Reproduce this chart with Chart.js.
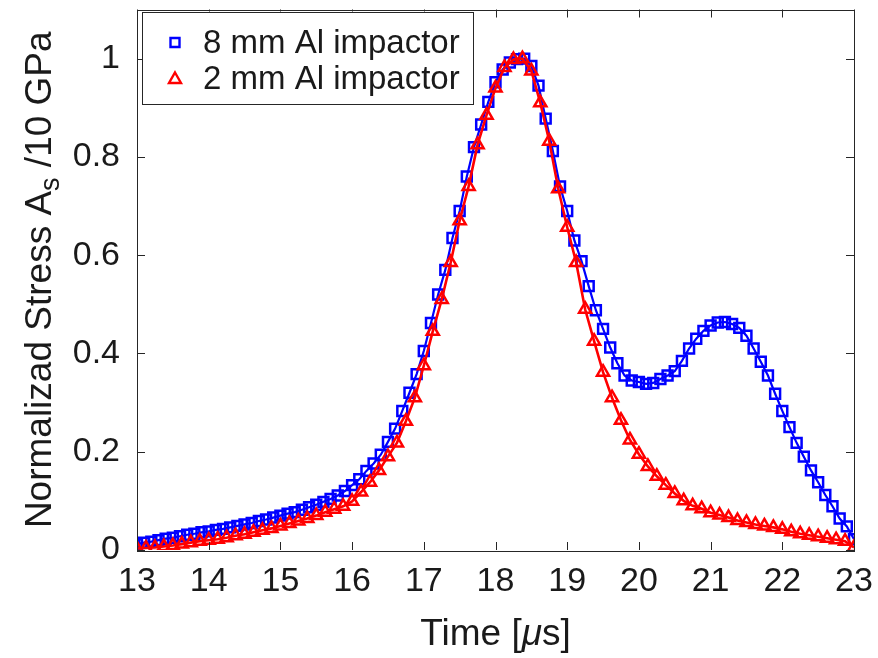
<!DOCTYPE html>
<html><head><meta charset="utf-8">
<script src="https://cdn.jsdelivr.net/npm/chart.js@4/dist/chart.umd.min.js"></script>
<style>html,body{margin:0;padding:0;background:#fff}#wrap{width:878px;height:658px}</style>
</head><body><div id="wrap"><canvas id="c" width="878" height="658"></canvas></div>
<script>
// Time samples [µs] and normalized stress for the 8 mm Al impactor
const blueTimes = [13.0,13.1,13.2,13.3,13.4,13.5,13.6,13.7,13.8,13.9,14.0,14.1,14.2,14.3,14.4,14.5,14.6,14.7,14.8,14.9,15.0,15.1,15.2,15.3,15.4,15.5,15.6,15.7,15.8,15.9,16.0,16.1,16.2,16.3,16.4,16.5,16.6,16.7,16.8,16.9,17.0,17.1,17.2,17.3,17.4,17.5,17.6,17.7,17.8,17.9,18.0,18.1,18.2,18.3,18.4,18.5,18.6,18.7,18.8,18.9,19.0,19.1,19.2,19.3,19.4,19.5,19.6,19.7,19.8,19.9,20.0,20.1,20.2,20.3,20.4,20.5,20.6,20.7,20.8,20.9,21.0,21.1,21.2,21.3,21.4,21.5,21.6,21.7,21.8,21.9,22.0,22.1,22.2,22.3,22.4,22.5,22.6,22.7,22.8,22.9,23.0];
const blueStress = [0.012,0.015,0.017,0.020,0.023,0.025,0.028,0.031,0.033,0.036,0.038,0.041,0.043,0.046,0.049,0.052,0.055,0.059,0.062,0.066,0.070,0.074,0.077,0.082,0.087,0.092,0.098,0.104,0.111,0.120,0.132,0.144,0.161,0.176,0.194,0.220,0.247,0.283,0.320,0.358,0.405,0.462,0.520,0.570,0.635,0.690,0.760,0.820,0.866,0.912,0.952,0.978,0.992,0.999,1.000,0.985,0.945,0.878,0.812,0.740,0.690,0.630,0.588,0.537,0.488,0.450,0.412,0.380,0.355,0.345,0.342,0.338,0.340,0.348,0.355,0.364,0.385,0.410,0.430,0.446,0.457,0.463,0.464,0.460,0.452,0.436,0.410,0.383,0.355,0.318,0.283,0.250,0.218,0.190,0.162,0.138,0.112,0.089,0.064,0.048,0.022];
// Time samples [µs] and normalized stress for the 2 mm Al impactor
const redTimes = [13.000,13.125,13.250,13.375,13.500,13.625,13.750,13.875,14.000,14.125,14.250,14.375,14.500,14.625,14.750,14.875,15.000,15.125,15.250,15.375,15.500,15.625,15.750,15.875,16.000,16.125,16.250,16.375,16.500,16.625,16.750,16.875,17.000,17.125,17.250,17.375,17.500,17.625,17.750,17.875,18.000,18.125,18.250,18.375,18.500,18.625,18.750,18.875,19.000,19.125,19.250,19.375,19.500,19.625,19.750,19.875,20.000,20.125,20.250,20.375,20.500,20.625,20.750,20.875,21.000,21.125,21.250,21.375,21.500,21.625,21.750,21.875,22.000,22.125,22.250,22.375,22.500,22.625,22.750,22.875,23.000];
const redStress = [0.003,0.004,0.005,0.007,0.009,0.012,0.015,0.018,0.020,0.022,0.025,0.029,0.032,0.036,0.040,0.044,0.049,0.054,0.059,0.064,0.070,0.077,0.083,0.089,0.099,0.118,0.138,0.162,0.190,0.218,0.262,0.310,0.375,0.445,0.510,0.585,0.670,0.740,0.825,0.885,0.940,0.982,0.998,1.000,0.975,0.910,0.832,0.735,0.657,0.585,0.490,0.425,0.362,0.310,0.264,0.224,0.195,0.170,0.150,0.132,0.115,0.100,0.090,0.084,0.076,0.071,0.066,0.060,0.056,0.052,0.049,0.046,0.042,0.037,0.033,0.030,0.027,0.024,0.021,0.018,0.005];
const seriesLabels = ['8 mm Al impactor', '2 mm Al impactor'];
const xTickValues = [13,14,15,16,17,18,19,20,21,22,23];
const yTickValues = [0,0.2,0.4,0.6,0.8,1];

const FONT = '"Liberation Sans", Arial, Helvetica, sans-serif';
const TXT = '#1a1a1a';
const AX = '#262626';
const TICK_FS = 34, TITLE_FS = 37, LEGEND_FS = 33;

const framePlugin = {
  id: 'frame',
  afterDraw(chart) {
    const ctx = chart.ctx, a = chart.chartArea;
    const xs = chart.scales.x, ys = chart.scales.y;
    ctx.save();
    // box
    ctx.strokeStyle = AX; ctx.lineWidth = 1;
    ctx.strokeRect(Math.round(a.left)+0.5, Math.round(a.top)+0.5, Math.round(a.right-a.left), Math.round(a.bottom-a.top));
    // inward ticks on all sides
    const tl = 8;
    ctx.beginPath();
    xs.ticks.forEach(t => {
      const px = Math.round(xs.getPixelForValue(t.value)) + 0.5;
      ctx.moveTo(px, a.bottom); ctx.lineTo(px, a.bottom - tl);
      ctx.moveTo(px, a.top); ctx.lineTo(px, a.top + tl);
    });
    ys.ticks.forEach(t => {
      const py = Math.round(ys.getPixelForValue(t.value)) + 0.5;
      ctx.moveTo(a.left, py); ctx.lineTo(a.left + tl, py);
      ctx.moveTo(a.right, py); ctx.lineTo(a.right - tl, py);
    });
    ctx.stroke();

    // x title with italic mu
    ctx.fillStyle = TXT; ctx.textBaseline = 'middle';
    const fs = TITLE_FS;
    const p1 = 'Time [', p2 = 'μ', p3 = 's]';
    ctx.font = fs + 'px ' + FONT; const w1 = ctx.measureText(p1).width, w3 = ctx.measureText(p3).width;
    ctx.font = 'italic ' + fs + 'px ' + FONT; const w2 = ctx.measureText(p2).width;
    let x0 = (a.left + a.right) / 2 - (w1 + w2 + w3) / 2; const yT = a.bottom + 85;
    ctx.textAlign = 'left';
    ctx.font = fs + 'px ' + FONT; ctx.fillText(p1, x0, yT);
    ctx.font = 'italic ' + fs + 'px ' + FONT; ctx.fillText(p2, x0 + w1, yT);
    ctx.font = fs + 'px ' + FONT; ctx.fillText(p3, x0 + w1 + w2, yT);

    // y title with subscript s
    ctx.save();
    ctx.translate(41, (a.top + a.bottom) / 2);
    ctx.rotate(-Math.PI / 2);
    const q1 = 'Normalizad Stress A', q2 = 's', q3 = ' /10 GPa';
    const sfs = Math.round(fs * 0.72);
    ctx.font = fs + 'px ' + FONT; const v1 = ctx.measureText(q1).width, v3 = ctx.measureText(q3).width;
    ctx.font = sfs + 'px ' + FONT; const v2 = ctx.measureText(q2).width;
    let s0 = -(v1 + v2 + v3) / 2;
    ctx.font = fs + 'px ' + FONT; ctx.fillText(q1, s0, 0);
    ctx.font = sfs + 'px ' + FONT; ctx.fillText(q2, s0 + v1, 11);
    ctx.font = fs + 'px ' + FONT; ctx.fillText(q3, s0 + v1 + v2, 0);
    ctx.restore();

    // legend box inside axes (upper left)
    const lx = a.left + 5, ly = a.top + 2, lw = 331, lh = 92;
    ctx.fillStyle = '#fff'; ctx.fillRect(lx, ly, lw, lh);
    ctx.strokeStyle = AX; ctx.lineWidth = 1;
    ctx.strokeRect(Math.round(lx)+0.5, Math.round(ly)+0.5, lw, lh);
    chart.data.datasets.forEach((ds, i) => {
      const ry = ly + 31 + i * 36;
      const mx = lx + 33;
      ctx.strokeStyle = ds.borderColor; ctx.lineWidth = 2.4;
      ctx.beginPath();
      if (ds.pointStyle === 'rect') {
        ctx.rect(mx - 4.5, ry - 4.5, 9, 9);
      } else {
        ctx.moveTo(mx, ry - 6); ctx.lineTo(mx + 6, ry + 4.5); ctx.lineTo(mx - 6, ry + 4.5); ctx.closePath();
      }
      ctx.stroke();
      ctx.fillStyle = TXT; ctx.font = LEGEND_FS + 'px ' + FONT; ctx.textAlign = 'left'; ctx.textBaseline = 'middle';
      ctx.fillText(ds.label, lx + 61, ry + 1);
    });
    ctx.restore();
  }
};

const toPts = (ts, vs) => ts.map((t, i) => ({ x: t, y: vs[i] }));

new Chart(document.getElementById('c'), {
  type: 'line',
  data: {
    datasets: [
      { label: seriesLabels[0], data: toPts(blueTimes, blueStress), borderColor: '#0000ff', backgroundColor: 'rgba(0,0,0,0)',
        borderWidth: 2.2, pointStyle: 'rect', pointRadius: 7, pointBorderWidth: 2.5, pointBorderColor: '#0000ff',
        pointBackgroundColor: 'rgba(0,0,0,0)', tension: 0, order: 2 },
      { label: seriesLabels[1], data: toPts(redTimes, redStress), borderColor: '#ff0000', backgroundColor: 'rgba(0,0,0,0)',
        borderWidth: 2.6, pointStyle: 'triangle', pointRadius: 7, pointBorderWidth: 2.5, pointBorderColor: '#ff0000',
        pointBackgroundColor: 'rgba(0,0,0,0)', tension: 0, order: 1 }
    ]
  },
  options: {
    responsive: false, animation: false, devicePixelRatio: 1,
    layout: { padding: { left: 0, right: 24, top: 8, bottom: 0 } },
    plugins: { legend: { display: false }, tooltip: { enabled: false } },
    scales: {
      x: {
        type: 'linear', min: 13, max: 23,
        afterBuildTicks(s) { s.ticks = xTickValues.map(v => ({ value: v })); },
        ticks: { font: { family: FONT, size: TICK_FS }, color: TXT, padding: 11, maxRotation: 0, autoSkip: false,
                 callback: v => String(v) },
        grid: { display: false, drawTicks: false }, border: { display: false },
        afterFit(s) { s.height = 108; s.paddingLeft = 0; s.paddingRight = 0; }
      },
      y: {
        type: 'linear', min: 0, max: 1.1,
        afterBuildTicks(s) { s.ticks = yTickValues.map(v => ({ value: v })); },
        ticks: { font: { family: FONT, size: TICK_FS }, color: TXT, padding: 17, autoSkip: false,
                 callback: v => String(Math.round(v * 10) / 10) },
        grid: { display: false, drawTicks: false }, border: { display: false },
        afterFit(s) { s.width = 137; s.paddingTop = 0; s.paddingBottom = 0; }
      }
    }
  },
  plugins: [framePlugin]
});
</script>
</body></html>
